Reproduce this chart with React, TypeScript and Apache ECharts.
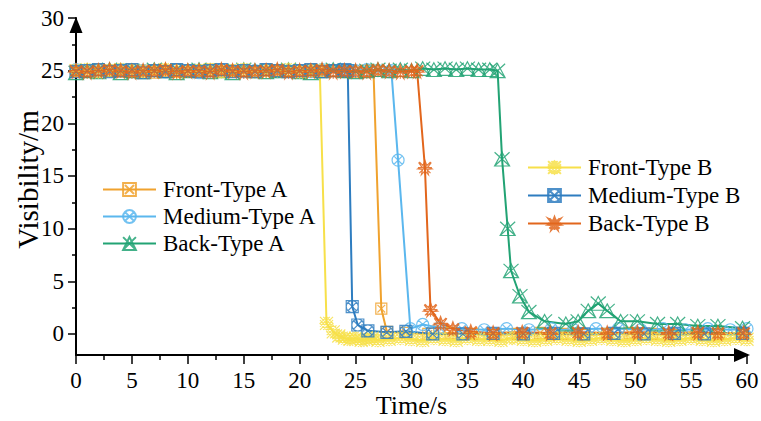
import React, { useEffect, useRef } from "react";
import * as echarts from "echarts";

const FONT = "Liberation Serif";

// ---- data (time in s, visibility in m) ----
const frontATime = [0,1,2,3,4,5,6,7,8,9,10,11,12,13,14,15,16,17,18,19,20,21,22,23,24,25,26,26.6,27.3,27.8,29.5,31.5,33.5,35.5,37.5,39.5,41.5,43.5,45.5,47.5,49.5,51.5,53.5,55.5,57.5,59.5];
const frontAVal = [25.0,24.9,25.1,25.0,24.9,25.1,25.0,24.8,25.0,25.1,24.9,25.0,25.1,24.9,25.0,25.0,24.9,25.1,25.0,24.9,25.0,25.1,24.9,25.0,25.0,24.9,25.0,25.0,2.4,0.2,0.1,0.0,0.1,0.0,-0.1,0.0,0.1,0.0,-0.1,0.0,0.1,0.0,-0.1,0.0,0.0,0.1];

const mediumATime = [0,1,2,3,4,5,6,7,8,9,10,11,12,13,14,15,16,17,18,19,20,21,22,23,24,25,26,27,28,28.2,28.8,29.9,31.0,32.5,34.5,36.5,38.5,40.5,42.5,44.5,46.5,48.5,50.5,52.5,54.5,56.5,58.5,60];
const mediumAVal = [25.1,25.0,24.9,25.0,25.1,24.9,25.0,25.0,24.9,25.1,25.0,24.8,25.0,25.1,25.0,24.9,25.0,25.1,24.9,25.0,25.0,24.9,25.1,25.0,24.9,25.0,25.1,25.0,24.9,25.0,16.5,0.5,0.9,0.6,0.5,0.4,0.5,0.4,0.5,0.4,0.5,0.5,0.4,0.5,0.4,0.5,0.4,0.5];

const backATime = [0,1,2,3,4,5,6,7,8,9,10,11,12,13,14,15,16,17,18,19,20,21,22,23,24,25,26,27,28,29,30,31,32,33,34,35,36,37,37.7,38.1,38.6,38.9,39.7,40.5,41.9,43.8,44.9,45.8,46.7,47.5,48.7,50.2,52.0,53.8,55.6,57.4,59.6];
const backAVal = [24.8,25.0,24.9,25.1,24.8,25.0,24.9,25.1,25.0,24.8,25.0,25.1,24.9,25.0,24.8,25.1,25.0,24.9,25.0,25.1,24.9,24.8,25.0,25.1,25.0,24.9,25.0,25.1,25.0,25.1,25.0,25.2,25.1,25.2,25.1,25.2,25.1,25.1,25.0,16.6,10.0,6.0,3.6,2.1,1.2,0.95,1.2,2.2,2.9,2.2,1.2,1.2,0.95,0.95,0.75,0.75,0.55];

const frontBTime = [0,1,2,3,4,5,6,7,8,9,10,11,12,13,14,15,16,17,18,19,20,21,21.8,22.4,23,23.5,24,24.5,25,25.5,26,26.5,27,28,29,30,31,32,33,34,35,36,37,38,39,40,41,42,43,44,45,46,47,48,49,50,51,52,53,54,55,56,57,58,59,60];
const frontBVal = [25.0,25.1,24.9,25.0,25.1,25.0,24.9,25.0,25.1,24.9,25.0,25.0,25.1,24.9,25.0,25.1,24.9,25.0,25.0,25.1,24.9,25.0,25.0,1.0,0.2,-0.2,-0.4,-0.5,-0.4,-0.6,-0.5,-0.4,-0.6,-0.5,-0.4,-0.5,-0.6,-0.4,-0.5,-0.6,-0.4,-0.5,-0.5,-0.6,-0.4,-0.5,-0.6,-0.5,-0.4,-0.5,-0.6,-0.5,-0.4,-0.5,-0.6,-0.5,-0.4,-0.5,-0.6,-0.5,-0.4,-0.5,-0.6,-0.5,-0.4,-0.5];

const mediumBTime = [0,1,2,3,4,5,6,7,8,9,10,11,12,13,14,15,16,17,18,19,20,21,22,23,24,24.3,24.7,25.2,26.1,27.8,29.5,31.9,34.6,37.3,40.0,42.7,45.4,48.1,50.8,53.5,56.2,59.6];
const mediumBVal = [24.9,25.0,25.1,24.9,25.0,25.1,24.8,25.0,24.9,25.1,25.0,24.9,25.0,25.1,24.9,25.0,24.9,25.1,25.0,24.9,25.0,25.1,24.9,25.0,25.1,25.0,2.6,0.85,0.3,0.15,0.25,0.0,0.0,0.05,0.0,0.05,0.0,0.05,0.0,0.05,0.0,0.05];

const backBTime = [0,1,2,3,4,5,6,7,8,9,10,11,12,13,14,15,16,17,18,19,20,21,22,23,24,25,26,27,28,29,30,30.5,31.2,31.7,32.6,33.7,35.3,37.3,39.9,42.4,44.9,47.5,50.2,53.0,55.6,57.4,59.7];
const backBVal = [25.0,24.9,25.0,25.1,25.0,24.9,25.0,25.0,25.1,24.9,25.0,25.0,24.9,25.1,25.0,24.9,25.0,25.0,25.1,24.9,25.0,25.0,25.1,24.9,25.0,25.0,24.9,25.1,25.0,24.9,25.0,25.0,15.8,2.3,1.0,0.5,0.2,0.1,0.15,0.1,0.15,0.1,0.15,0.1,0.15,0.1,0.1];

const xTicks = [0, 60, 5];
const yMajor = [0, 5, 10, 15, 20, 25, 30];
const yMinor = [2.5, 7.5, 12.5, 17.5, 22.5, 27.5];

const SYM_FRONT_A = "path://M0,0L10,0L10,10L0,10Z M1.5,1.5L8.5,8.5 M8.5,1.5L1.5,8.5";
const SYM_MEDIUM_A = "path://M10,5A5,5,0,1,1,0,5A5,5,0,1,1,10,5Z M1.6,1.6L8.4,8.4 M8.4,1.6L1.6,8.4";
const SYM_BACK_A = "path://M6,0L12,11L0,11Z M0,0L12,11 M12,0L0,11";
const SYM_FRONT_B = "path://M5,0L10,5L5,10L0,5Z M0,0L10,10 M10,0L0,10 M2.5,0L10,7.5 M7.5,0L0,7.5 M0,2.5L7.5,10 M10,2.5L2.5,10";
const SYM_MEDIUM_B = "path://M0,0L10,0L10,10L0,10Z M10,5A5,5,0,1,1,0,5A5,5,0,1,1,10,5Z M1.5,1.5L8.5,8.5 M8.5,1.5L1.5,8.5";
const SYM_BACK_B = "path://M5,0L6.2,3.2L9.5,1.5L7.2,4.5L10,6L6.6,6.3L7.5,10L5,7.3L2.5,10L3.4,6.3L0,6L2.8,4.5L0.5,1.5L3.8,3.2Z M5,0L5,10 M0,5L10,5 M1,1L9,9 M9,1L1,9";

function mk(name: string, times: number[], vals: number[], color: string, symbol: string, size: number) {
  return {
    name,
    type: "line",
    data: times.map((t, i) => [t, vals[i]]),
    color,
    symbol,
    symbolSize: size,
    symbolKeepAspect: true,
    showSymbol: true,
    clip: false,
    lineStyle: { color, width: 2 },
    itemStyle: { color: "rgba(255,255,255,0)", borderColor: color, borderWidth: 1.2, opacity: 0.85 },
    emphasis: { disabled: true },
  };
}

export default function App() {
  const ref = useRef<HTMLDivElement>(null);
  useEffect(() => {
    if (!ref.current) return;
    const chart = echarts.init(ref.current, null, { renderer: "svg" });
    const axisTextStyle = { color: "#000", fontFamily: FONT, fontSize: 23, lineHeight: 20 };
    const legendText = { fontFamily: FONT, fontSize: 23, color: "#000", lineHeight: 22, padding: [0, 0, 0, 2] };
    chart.setOption({
      animation: false,
      backgroundColor: "#fff",
      textStyle: { fontFamily: FONT },
      grid: { left: 76, right: 14, top: 18, bottom: 66, containLabel: false, outerBoundsMode: "none" },
      legend: [
        {
          data: ["Front-Type A", "Medium-Type A", "Back-Type A"],
          orient: "vertical",
          left: 102,
          top: 178,
          padding: 0,
          itemWidth: 53,
          itemHeight: 16,
          itemGap: 4,
          textStyle: legendText,
        },
        {
          data: ["Front-Type B", "Medium-Type B", "Back-Type B"],
          orient: "vertical",
          left: 527,
          top: 156,
          padding: 0,
          itemWidth: 53,
          itemHeight: 16,
          itemGap: 5,
          textStyle: legendText,
        },
      ],
      xAxis: {
        type: "value",
        min: xTicks[0],
        max: xTicks[1],
        interval: xTicks[2],
        name: "Time/s",
        nameLocation: "middle",
        nameGap: 38,
        nameMoveOverlap: false,
        nameTextStyle: { color: "#000", fontFamily: FONT, fontSize: 26, lineHeight: 24 },
        axisLine: {
          show: true,
          onZero: false,
          lineStyle: { color: "#000", width: 2 },
          symbol: ["none", "triangle"],
          symbolSize: [14, 16],
          symbolOffset: [0, -5],
        },
        axisTick: { show: true, length: 9, lineStyle: { color: "#000", width: 1.5 } },
        minorTick: { show: true, splitNumber: 2, length: 5, lineStyle: { color: "#000", width: 1.5 } },
        axisLabel: { ...axisTextStyle, margin: 15 },
        splitLine: { show: false },
      },
      yAxis: [
        {
          type: "value",
          min: -2,
          max: 30,
          name: "Visibility/m",
          nameLocation: "middle",
          nameRotate: 90,
          nameGap: 34,
          nameMoveOverlap: false,
          nameTextStyle: { color: "#000", fontFamily: FONT, fontSize: 29, padding: [0, 0, 0, 14] },
          axisLine: {
            show: true,
            onZero: false,
            lineStyle: { color: "#000", width: 2 },
            symbol: ["none", "triangle"],
            symbolSize: [13, 16],
            symbolOffset: [0, -7],
          },
          axisTick: { show: true, length: 8, customValues: yMajor, lineStyle: { color: "#000", width: 1.5 } },
          axisLabel: { ...axisTextStyle, margin: 12, customValues: yMajor },
          splitLine: { show: false },
        },
        {
          type: "value",
          min: -2,
          max: 30,
          position: "left",
          axisLine: { show: false },
          axisTick: { show: true, length: 4, customValues: yMinor, lineStyle: { color: "#000", width: 1.5 } },
          axisLabel: { show: false },
          splitLine: { show: false },
        },
      ],
      series: [
        mk("Front-Type A", frontATime, frontAVal, "#F0A22E", SYM_FRONT_A, 11),
        mk("Medium-Type A", mediumATime, mediumAVal, "#5BB7EE", SYM_MEDIUM_A, 12),
        mk("Back-Type A", backATime, backAVal, "#22A374", SYM_BACK_A, 15),
        mk("Front-Type B", frontBTime, frontBVal, "#F7E04A", SYM_FRONT_B, 13),
        mk("Medium-Type B", mediumBTime, mediumBVal, "#2E7DC0", SYM_MEDIUM_B, 12),
        mk("Back-Type B", backBTime, backBVal, "#E2661C", SYM_BACK_B, 14),
      ],
    });
    return () => chart.dispose();
  }, []);
  return <div ref={ref} style={{ width: 761, height: 421, position: "absolute", left: 0, top: 0 }} />;
}
